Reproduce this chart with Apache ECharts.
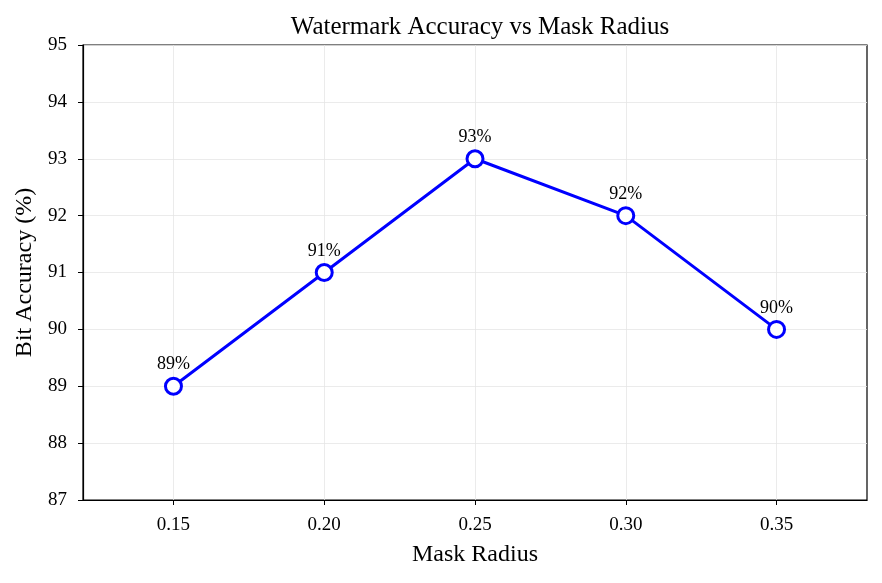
<!DOCTYPE html>
<html lang="en">
<head>
    <meta charset="UTF-8">
    <title>Watermark Accuracy vs Mask Radius</title>
    <script src="https://cdn.jsdelivr.net/npm/echarts@6/dist/echarts.min.js"></script>
    <style>
        html, body { margin: 0; padding: 0; background: #fff; }
        #chart { width: 882px; height: 583px; }
    </style>
</head>
<body>
    <div id="chart"></div>
    <script>
        // data
        var maskRadius = [0.15, 0.20, 0.25, 0.30, 0.35];
        var bitAccuracy = [89, 91, 93, 92, 90];
        var xTicks = [0.15, 0.20, 0.25, 0.30, 0.35];

        var font = 'Liberation Serif';
        var points = maskRadius.map(function (x, i) { return [x, bitAccuracy[i]]; });

        var chart = echarts.init(document.getElementById('chart'));
        chart.setOption({
            animation: false,
            textStyle: { fontFamily: font },
            title: {
                text: 'Watermark Accuracy vs Mask Radius',
                left: 475, top: 10, textAlign: 'center',
                textStyle: { fontFamily: font, fontSize: 25, fontWeight: 'normal', color: '#000' }
            },
            grid: {
                left: 83, right: 15, top: 45, bottom: 83,
                show: true, borderColor: '#000', borderWidth: 1.2, backgroundColor: 'transparent'
            },
            xAxis: {
                type: 'value', min: 0.12, max: 0.38,
                name: 'Mask Radius', nameLocation: 'middle', nameGap: 43,
                nameTextStyle: { fontFamily: font, fontSize: 24, color: '#000' },
                axisLine: { show: true, onZero: false, lineStyle: { color: '#000', width: 1.2 } },
                axisTick: { show: true, inside: false, length: 5, customValues: xTicks, lineStyle: { color: '#000' } },
                axisLabel: {
                    customValues: xTicks, color: '#000', fontSize: 19, margin: 16,
                    formatter: function (v) { return v.toFixed(2); }
                },
                splitLine: { show: true, lineStyle: { color: '#e6e6e6', width: 0.8 } }
            },
            yAxis: {
                type: 'value', min: 87, max: 95, interval: 1,
                name: 'Bit Accuracy (%)', nameLocation: 'middle', nameGap: 43, nameRotate: 90,
                nameTextStyle: { fontFamily: font, fontSize: 24, color: '#000' },
                axisLine: { show: true, lineStyle: { color: '#000', width: 1.2 } },
                axisTick: { show: true, inside: false, length: 5, lineStyle: { color: '#000' } },
                axisLabel: { color: '#000', fontSize: 19, margin: 16 },
                splitLine: { show: true, lineStyle: { color: '#e6e6e6', width: 0.8 } }
            },
            series: [{
                type: 'line',
                data: points,
                symbol: 'circle', symbolSize: 16,
                lineStyle: { color: '#0000ff', width: 3 },
                itemStyle: { color: '#fff', borderColor: '#0000ff', borderWidth: 3 },
                label: {
                    show: true, position: 'top', distance: 3,
                    fontFamily: font, fontSize: 18, color: '#000',
                    formatter: function (p) { return p.value[1] + '%'; }
                }
            }]
        });
    </script>
</body>
</html>
